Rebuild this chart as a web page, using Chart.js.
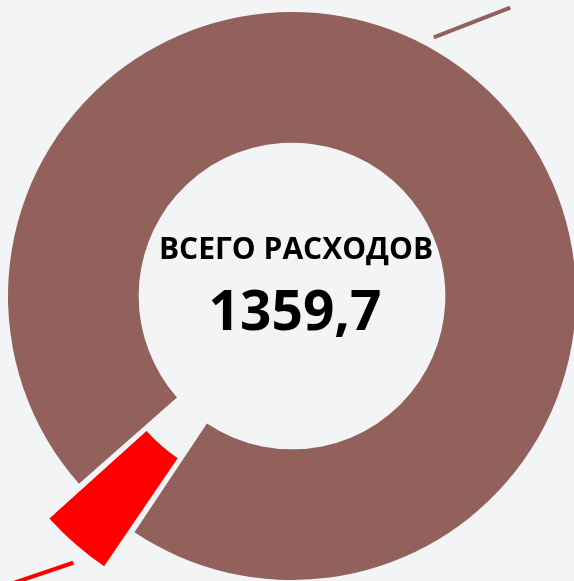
<!DOCTYPE html>
<html>
<head>
<meta charset="utf-8">
<script src="https://cdn.jsdelivr.net/npm/chart.js@4"></script>
<style>
  html, body { margin: 0; padding: 0; background: #f3f4f6; overflow: hidden; }
  #wrap { position: relative; width: 574px; height: 581px; overflow: hidden; background: #f3f4f6; }
  #chart { position: absolute; left: 0; top: 0; }
</style>
</head>
<body>
<div id="wrap"><canvas id="chart" width="584" height="592"></canvas></div>
<script>
// expense split (total 1359,7)
const labels = ['Прочие расходы', 'Выделенные расходы'];
const values = [1303.4, 56.3];
const colors = ['#93615c', '#ff0000'];
const title = 'ВСЕГО РАСХОДОВ';
const total = '1359,7';

// leader lines that run off towards the (cut off) labels
const leaders = [
  { index: 0, frac: 0.464, gap: 11, dx: 75, dy: -29, len: 82 },
  { index: 1, frac: 0.38, gap: 61, dx: -50, dy: 17, len: 62 }
];

const centerText = {
  id: 'centerText',
  afterDatasetsDraw(chart) {
    const { ctx } = chart;
    const meta = chart.getDatasetMeta(0);
    const cx = meta.data[0].x, cy = meta.data[0].y;
    ctx.save();
    ctx.fillStyle = '#000';
    ctx.textAlign = 'center';
    ctx.textBaseline = 'alphabetic';
    ctx.font = 'bold 30px "Open Sans"';
    ctx.fillText(title, cx + 4, cy - 37, 278);
    ctx.font = 'bold 55px "Open Sans"';
    ctx.fillText(total, cx + 3, cy + 34);

    // leaders
    leaders.forEach(l => {
      const a = meta.data[l.index];
      const ang = a.startAngle + (a.endAngle - a.startAngle) * l.frac;
      const r = a.outerRadius + l.gap;
      const x0 = cx + Math.cos(ang) * r, y0 = cy + Math.sin(ang) * r;
      const n = Math.hypot(l.dx, l.dy);
      ctx.strokeStyle = colors[l.index];
      ctx.lineWidth = 4;
      ctx.beginPath();
      ctx.moveTo(x0, y0);
      ctx.lineTo(x0 + l.dx / n * l.len, y0 + l.dy / n * l.len);
      ctx.stroke();
    });
    ctx.restore();
  }
};

new Chart(document.getElementById('chart'), {
  type: 'doughnut',
  data: {
    labels: labels,
    datasets: [{
      data: values,
      backgroundColor: colors,
      borderWidth: 0,
      offset: [0, 104]
    }]
  },
  options: {
    responsive: false,
    animation: false,
    radius: 284,
    cutout: '54%',
    rotation: 228.6,
    plugins: {
      legend: { display: false },
      tooltip: { enabled: false }
    }
  },
  plugins: [centerText]
});
</script>
</body>
</html>
